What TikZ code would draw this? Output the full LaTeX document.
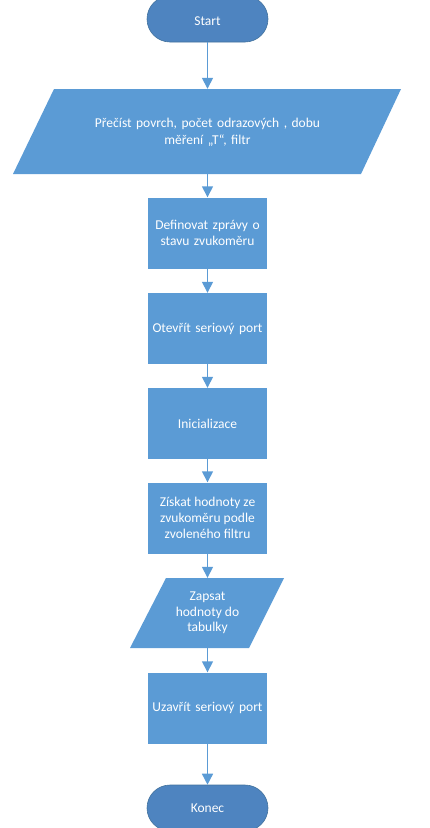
\documentclass[tikz,border=0pt]{standalone}
\usepackage{fontspec}
\setmainfont{Carlito}
\usetikzlibrary{arrows.meta}
\definecolor{boxblue}{HTML}{5B9BD5}
\definecolor{termblue}{HTML}{4E84C0}
\definecolor{termline}{HTML}{41719C}
\definecolor{arrowblue}{HTML}{5B9BD5}
\tikzset{
  every node/.style={font=\fontsize{13.5}{16}\selectfont, text=white, align=center, inner sep=0pt},
  procbox/.style={rectangle, fill=boxblue, minimum width=119pt, minimum height=71pt, text width=116pt},
  termbox/.style={rectangle, rounded corners=23pt, fill=termblue, draw=termline, line width=0.6pt, minimum width=121pt, minimum height=46pt},
  iohold/.style={rectangle, minimum height=#1},
  iofill/.style={fill=boxblue},
  flow/.style={draw=arrowblue, line width=1.5pt, -{Triangle[length=11pt, width=11pt]}},
}
\begin{document}
\begin{tikzpicture}[x=1pt, y=-1pt]
\useasboundingbox (0,0) rectangle (430,828);
\begin{scope}
\clip (0,0) rectangle (430,828);
% terminals
\node[termbox] (start) at (207.5,19) {};
\node[termbox] (konec) at (207.5,808) {};
% input parallelogram 1
\fill[iofill] (54,89) -- (401,89) -- (361,174) -- (13,174) -- cycle;
\node[iohold=85pt, minimum width=260pt] (in1) at (207.5,131.5) {};
% process boxes
\node[procbox] (def) at (207.5,233) {};
\node[procbox] (ser) at (207.5,328.5) {};
\node[procbox] (ini) at (207.5,423.5) {};
\node[procbox] (zis) at (207.5,518) {};
% output parallelogram 2
\fill[iofill] (166,578) -- (284,578) -- (249,648) -- (130,648) -- cycle;
\node[iohold=70pt, minimum width=100pt] (out) at (207.5,613) {};
\node[procbox] (uza) at (207.5,708) {};
\end{scope}
% texts
\node at ([yshift=-2pt]start.center) {Start};
\node at (konec.center) {Konec};
\node[text width=280pt, font=\fontsize{13.5}{17}\selectfont] at ([yshift=-1pt]in1.center) {Přečíst povrch, počet odrazových , dobu\\ měření „T“, filtr};
\node[text width=116pt] at (def.center) {Definovat zprávy o\\ stavu zvukoměru};
\node[text width=116pt] at (ser.center) {Otevřít seriový port};
\node at (ini.center) {Inicializace};
\node at (zis.center) {Získat hodnoty ze\\ zvukoměru podle\\ zvoleného filtru};
\node[font=\fontsize{13.5}{15.5}\selectfont] at (out.center) {Zapsat\\ hodnoty do\\ tabulky};
\node[text width=116pt] at (uza.center) {Uzavřít seriový port};
% connectors
\draw[flow] (start.south) -- (in1.north);
\draw[flow] (in1.south) -- (def.north);
\draw[flow] (def.south) -- (ser.north);
\draw[flow] (ser.south) -- (ini.north);
\draw[flow] (ini.south) -- (zis.north);
\draw[flow] (zis.south) -- (out.north);
\draw[flow] (out.south) -- (uza.north);
\draw[flow] (uza.south) -- (konec.north);
\end{tikzpicture}
\end{document}
